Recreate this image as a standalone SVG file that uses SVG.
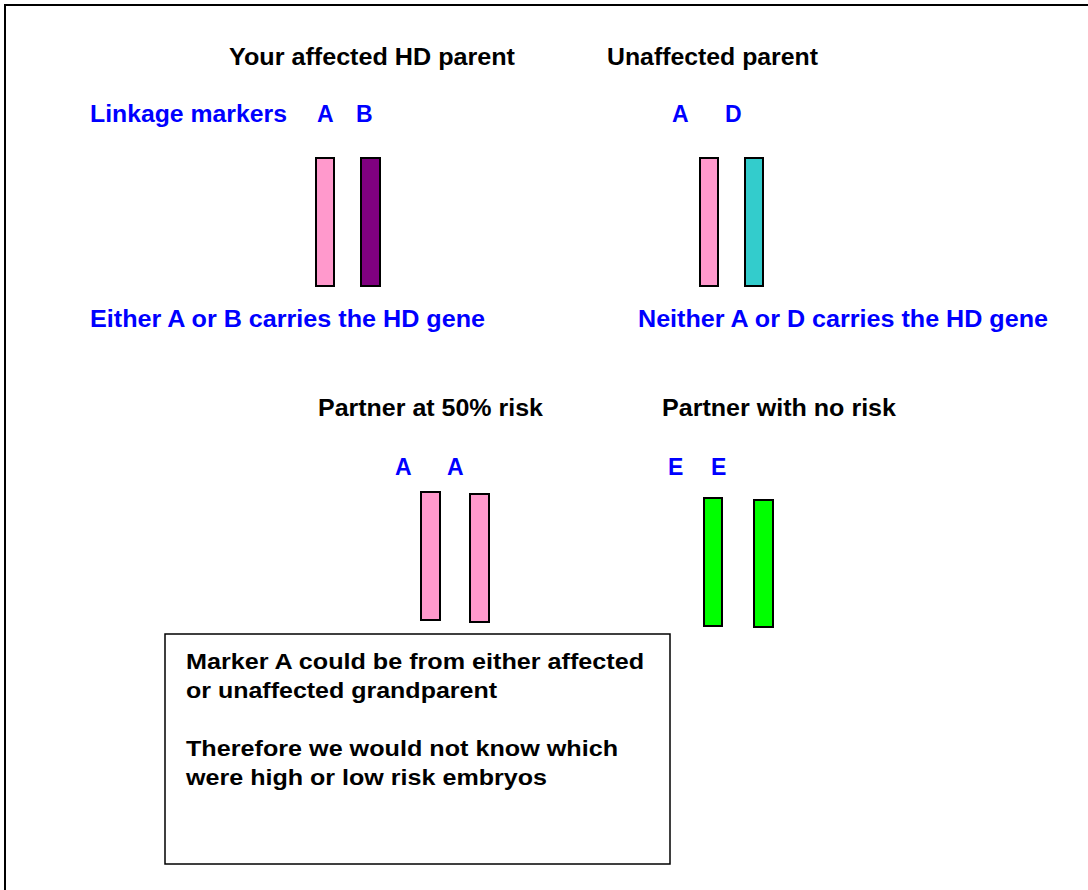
<svg xmlns="http://www.w3.org/2000/svg" width="1088" height="890" viewBox="0 0 1088 890">
<style>
text{font-family:"Liberation Sans",Arial,sans-serif;font-weight:bold;font-size:23px}
.k{fill:#000}
.b{fill:#0000FF}
.bar{stroke:#000;stroke-width:2}
.m{font-size:22px}
</style>
<rect x="5" y="5" width="1100" height="900" fill="#fff" stroke="#000" stroke-width="2"/>
<g id="affected-parent">
<text class="k" x="229" y="65" textLength="286" lengthAdjust="spacingAndGlyphs">Your affected HD parent</text>
<text class="b" x="90" y="122" textLength="197" lengthAdjust="spacingAndGlyphs">Linkage markers</text>
<text class="b" x="317" y="122">A</text>
<text class="b" x="356" y="122">B</text>
<rect class="bar" x="316" y="158" width="18" height="128" fill="#FF99CC"/>
<rect class="bar" x="361" y="158" width="19" height="128" fill="#800080"/>
<text class="b" x="90" y="327" textLength="395" lengthAdjust="spacingAndGlyphs">Either A or B carries the HD gene</text>
</g>
<g id="unaffected-parent">
<text class="k" x="607" y="65" textLength="211" lengthAdjust="spacingAndGlyphs">Unaffected parent</text>
<text class="b" x="672" y="122">A</text>
<text class="b" x="725" y="122">D</text>
<rect class="bar" x="700" y="158" width="18" height="128" fill="#FF99CC"/>
<rect class="bar" x="745" y="158" width="18" height="128" fill="#33CCCC"/>
<text class="b" x="638" y="327" textLength="410" lengthAdjust="spacingAndGlyphs">Neither A or D carries the HD gene</text>
</g>
<g id="partner-50">
<text class="k" x="318" y="416" textLength="225" lengthAdjust="spacingAndGlyphs">Partner at 50% risk</text>
<text class="b" x="395" y="475">A</text>
<text class="b" x="447" y="475">A</text>
<rect class="bar" x="421" y="492" width="19" height="128" fill="#FF99CC"/>
<rect class="bar" x="470" y="494" width="19" height="128" fill="#FF99CC"/>
</g>
<g id="partner-no-risk">
<text class="k" x="662" y="416" textLength="234" lengthAdjust="spacingAndGlyphs">Partner with no risk</text>
<text class="b" x="668" y="475">E</text>
<text class="b" x="711" y="475">E</text>
<rect class="bar" x="704" y="498" width="18" height="128" fill="#00FF00"/>
<rect class="bar" x="754" y="500" width="19" height="127" fill="#00FF00"/>
</g>
<g id="note">
<rect x="165" y="634" width="505" height="230" fill="#fff" stroke="#000" stroke-width="1.5"/>
<text class="k m" x="186" y="669" textLength="458" lengthAdjust="spacingAndGlyphs">Marker A could be from either affected</text>
<text class="k m" x="186" y="698" textLength="311" lengthAdjust="spacingAndGlyphs">or unaffected grandparent</text>
<text class="k m" x="186" y="756" textLength="432" lengthAdjust="spacingAndGlyphs">Therefore we would not know which</text>
<text class="k m" x="186" y="785" textLength="361" lengthAdjust="spacingAndGlyphs">were high or low risk embryos</text>
</g>
<g id="connectors"/>
</svg>
